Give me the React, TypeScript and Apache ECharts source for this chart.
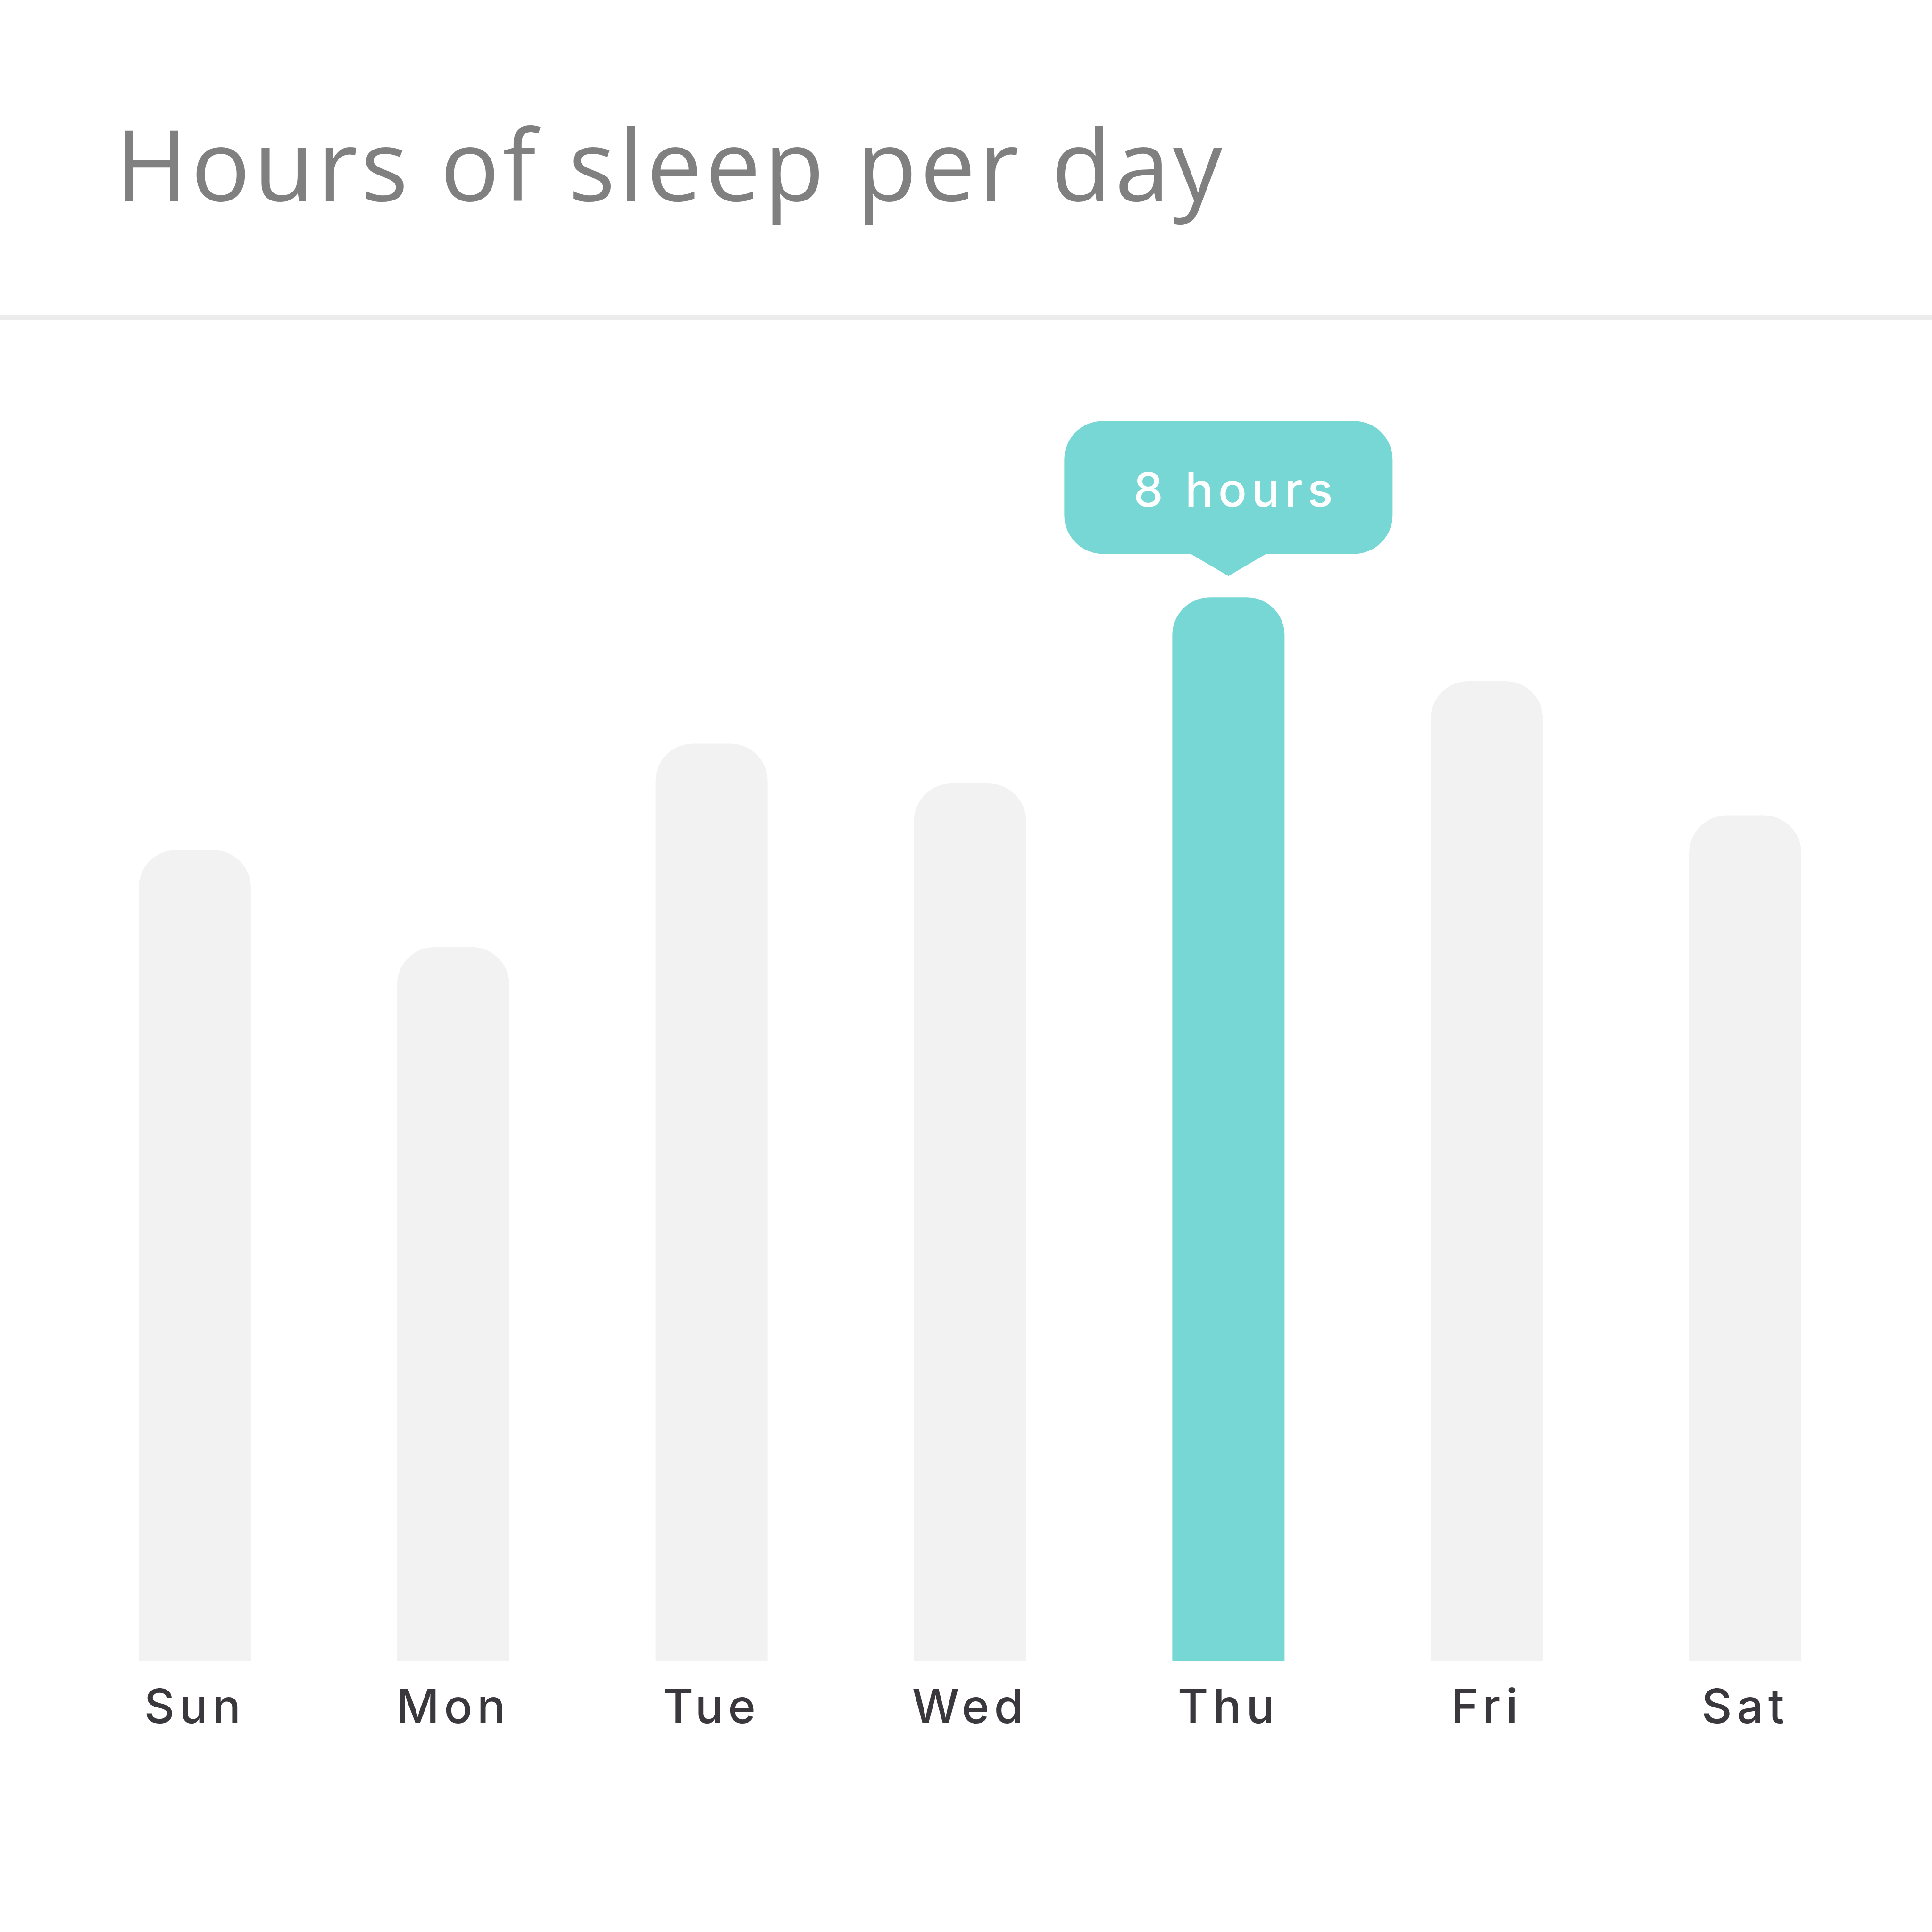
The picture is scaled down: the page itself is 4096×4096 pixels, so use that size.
import React, { useEffect, useRef } from "react";
import * as echarts from "echarts";

const TITLE = "Hours of sleep per day";
const days = ["Sun", "Mon", "Tue", "Wed", "Thu", "Fri", "Sat"];
const hours = [6.1, 5.37, 6.9, 6.6, 8, 7.37, 6.36];
const highlightDay = "Thu";
const unitLabel = "hours";
const yMax = 10;

const TEAL = "#76d7d4";
const GRAY_BAR = "#f2f2f2";
const LABEL_COLOR = "#3a383d";
const TITLE_COLOR = "#808080";
const RULE_COLOR = "#ececec";

const TITLE_LS = 7;
const LABEL_LS = 10;

const bw = 696;
const bh = 282;
const br = 82;
const pw = 80;
const ph = 47;
const bubblePath =
  `path://M${br},0 L${bw - br},0 A${br},${br} 0 0 1 ${bw},${br} L${bw},${bh - br} ` +
  `A${br},${br} 0 0 1 ${bw - br},${bh} L${bw / 2 + pw},${bh} L${bw / 2},${bh + ph} ` +
  `L${bw / 2 - pw},${bh} L${br},${bh} A${br},${br} 0 0 1 0,${bh - br} L0,${br} ` +
  `A${br},${br} 0 0 1 ${br},0 Z`;
const bubbleGap = 45;

export default function App() {
  const ref = useRef<HTMLDivElement>(null);

  useEffect(() => {
    if (!ref.current) return;
    const chart = echarts.init(ref.current, null, { renderer: "svg" });
    const hiIdx = days.indexOf(highlightDay);

    chart.setOption({
      animation: false,
      backgroundColor: "#ffffff",
      title: {
        text: TITLE,
        left: 244,
        top: 240,
        padding: 0,
        textStyle: {
          fontFamily: "Open Sans",
          fontWeight: 400,
          fontSize: 209,
          lineHeight: 209,
          color: TITLE_COLOR,
        },
      },
      graphic: [
        {
          type: "rect",
          shape: { x: 0, y: 667, width: 4096, height: 12 },
          style: { fill: RULE_COLOR },
          silent: true,
        },
      ],
      grid: { left: 139, width: 3835, top: 702.5, height: 2819 },
      xAxis: {
        type: "category",
        data: days,
        axisLine: { show: false },
        axisTick: { show: false },
        splitLine: { show: false },
        axisLabel: {
          interval: 0,
          margin: 45,
          color: LABEL_COLOR,
          fontFamily: "Inter",
          fontWeight: 500,
          fontSize: 100,
          lineHeight: 100,
        },
      },
      yAxis: {
        type: "value",
        min: 0,
        max: yMax,
        show: false,
        splitLine: { show: false },
      },
      series: [
        {
          type: "bar",
          barWidth: 238,
          silent: true,
          data: hours.map((v, i) => ({
            value: v,
            itemStyle: {
              color: i === hiIdx ? TEAL : GRAY_BAR,
              borderRadius: [80, 80, 0, 0],
            },
          })),
          markPoint: {
            silent: true,
            symbol: bubblePath,
            symbolSize: [bw, bh + ph],
            symbolKeepAspect: false,
            symbolOffset: [0, -(bubbleGap + (bh + ph) / 2)],
            itemStyle: { color: TEAL },
            label: {
              show: true,
              position: "inside",
              offset: [15, -19],
              formatter: (p: any) => `${p.value} ${unitLabel}`,
              color: "#ffffff",
              fontFamily: "Inter",
              fontWeight: 500,
              fontSize: 100,
              lineHeight: 100,
            },
            data: [{ coord: [highlightDay, hours[hiIdx]], value: hours[hiIdx] }],
          },
        },
      ],
    });

    const applySpacing = () => {
      const el = ref.current;
      if (!el) return;
      el.querySelectorAll("text").forEach((t) => {
        const s = t.textContent || "";
        (t as SVGTextElement).style.letterSpacing =
          (s === TITLE ? TITLE_LS : LABEL_LS) + "px";
      });
    };
    applySpacing();
    chart.on("finished", applySpacing);
    const tm = setTimeout(applySpacing, 0);

    return () => {
      clearTimeout(tm);
      chart.dispose();
    };
  }, []);

  return (
    <div
      ref={ref}
      style={{ position: "absolute", left: 0, top: 0, width: 4096, height: 4096 }}
    />
  );
}
